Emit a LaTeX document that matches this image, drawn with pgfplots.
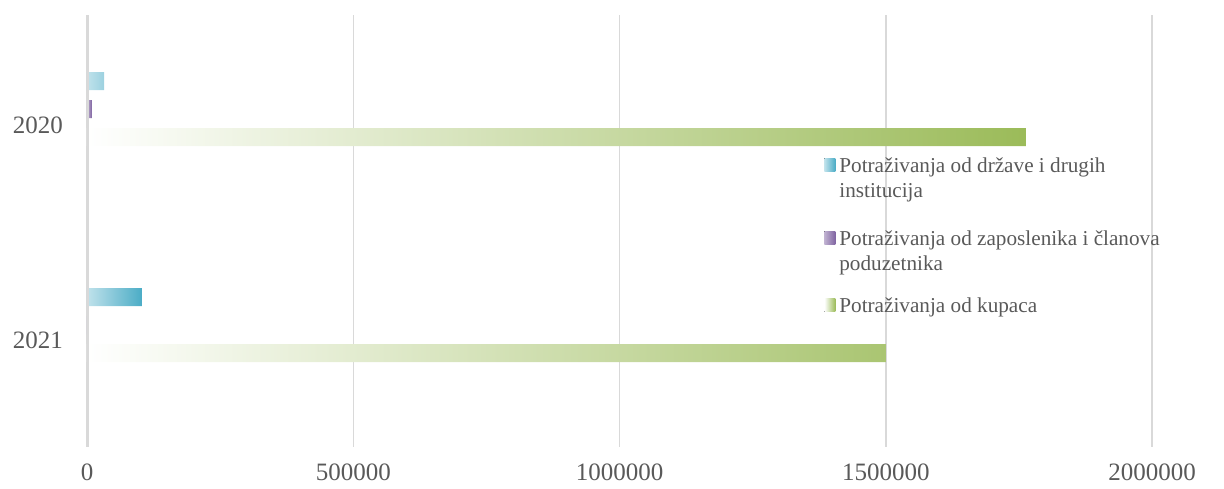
\documentclass[border=0pt]{standalone}
\usepackage{pgfplots}
\pgfplotsset{compat=1.18}
\usepackage{fontspec}
\setmainfont{Liberation Serif}
\definecolor{cteal}{HTML}{4BACC6}
\definecolor{cpurple}{HTML}{8064A2}
\definecolor{cgreen}{HTML}{9BBB59}
\definecolor{ctext}{HTML}{595959}
\definecolor{cgrid}{HTML}{D9D9D9}
\newcommand{\lline}[2]{\rule[-3.5pt]{0pt}{#1}#2}
\begin{document}
\begin{tikzpicture}
\begin{axis}[
  scale only axis,
  width=532.5pt, height=216pt,
  xbar, bar width=18, bar shift=0pt,
  xmin=0, xmax=2000000,
  ymin=0, ymax=432, y dir=reverse,
  xtick={0,500000,1000000,1500000,2000000},
  xticklabels={0,500000,1000000,1500000,2000000},
  ytick={110,325}, yticklabels={2020,2021},
  major tick length=0pt,
  tick label style={font=\fontsize{12.5}{14}\selectfont, text=ctext},
  xticklabel style={yshift=-5pt},
  yticklabel style={xshift=-8.5pt},
  xmajorgrids, major grid style={cgrid, line width=0.75pt},
  axis x line*=bottom, axis y line*=left,
  x axis line style={draw=none},
  y axis line style={draw=none},
  legend style={draw=none, fill=none, at={(rel axis cs:0.692,0.6806)}, anchor=north west,
    font=\fontsize{10.6}{13.5}\selectfont, text=ctext, inner sep=0pt, row sep=0pt,
    cells={anchor=base west}, column sep=0pt},
  legend image code/.code={\fill[#1] (0pt,0.5pt) rectangle (5.5pt,7pt);},
]
\addplot[draw=none, left color=cteal!35, middle color=cteal!85, right color=cteal] coordinates {(32000,66) (103000,282)};
\addlegendentry{\lline{10pt}{Potraživanja od države i drugih}}
\addlegendimage{empty legend}
\addlegendentry{\lline{10.5pt}{institucija}}
\addplot[draw=none, left color=cpurple!50, right color=cpurple] coordinates {(9000,94) (0,310)};
\addlegendentry{\lline{22pt}{Potraživanja od zaposlenika i članova}}
\addlegendimage{empty legend}
\addlegendentry{\lline{10.5pt}{poduzetnika}}
\addplot[draw=none, left color=white, right color=cgreen] coordinates {(1763000,122) (1500000,338)};
\addlegendentry{\lline{19pt}{Potraživanja od kupaca}}
\draw[cgrid, line width=2.2pt] (rel axis cs:0,0) -- (rel axis cs:0,1);
\end{axis}
\pgfresetboundingbox
\path (-43.5pt,-20.5pt) rectangle (568.5pt,223.5pt);
\end{tikzpicture}
\end{document}
